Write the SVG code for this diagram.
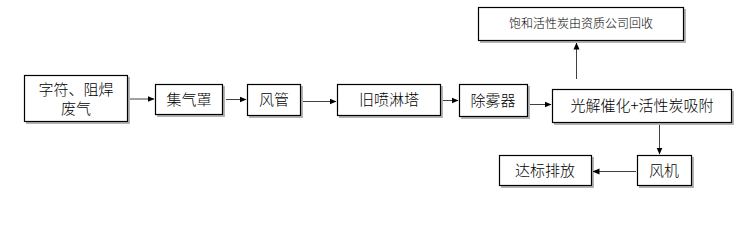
<svg xmlns="http://www.w3.org/2000/svg" width="739" height="241" viewBox="0 0 739 241">
<style>
.box{fill:#fff;stroke:#000;stroke-width:1.2}
.sh{fill:#b4b4b4}
.t{font-family:"Noto Sans CJK SC","Liberation Sans",sans-serif;font-size:15px;font-weight:300;text-anchor:middle;fill:#000}
.s{font-size:12px}
.c{stroke:#404040;stroke-width:1;fill:none}
</style>
<defs>
<marker id="a" markerWidth="7" markerHeight="7" refX="6.5" refY="3.5" orient="auto" markerUnits="userSpaceOnUse">
<path d="M0,0.5 L7,3.5 L0,6.5 z" fill="#000"/>
</marker>
</defs>
<rect width="739" height="241" fill="#fff"/>
<g id="n1"><rect class="sh" x="26" y="77" width="104" height="47"/><rect class="box" x="24.5" y="75.5" width="103" height="46"/><text class="t" x="76" y="95">字符、阻焊</text><text class="t" x="76" y="114">废气</text></g>
<g id="n2"><rect class="sh" x="157" y="86" width="68" height="31"/><rect class="box" x="155.5" y="84.5" width="67" height="30"/><text class="t" x="189" y="105">集气罩</text></g>
<g id="n3"><rect class="sh" x="249" y="86" width="54" height="32"/><rect class="box" x="247.5" y="84.5" width="53" height="31"/><text class="t" x="274" y="105">风管</text></g>
<g id="n4"><rect class="sh" x="339" y="86" width="104" height="32"/><rect class="box" x="337.5" y="84.5" width="103" height="31"/><text class="t" x="389" y="105">旧喷淋塔</text></g>
<g id="n5"><rect class="sh" x="461" y="86" width="69" height="33"/><rect class="box" x="459.5" y="84.5" width="68" height="32"/><text class="t" x="493" y="106">除雾器</text></g>
<g id="n6"><rect class="sh" x="554" y="91" width="180" height="34"/><rect class="box" x="552.5" y="89.5" width="179" height="33"/><text class="t" x="642" y="111">光解催化+活性炭吸附</text></g>
<g id="n7"><rect class="sh" x="480" y="9" width="206" height="34"/><rect class="box" x="478.5" y="7.5" width="205" height="33"/><text class="t s" x="581" y="28">饱和活性炭由资质公司回收</text></g>
<g id="n8"><rect class="sh" x="639" y="157" width="55" height="31"/><rect class="box" x="637.5" y="155.5" width="54" height="30"/><text class="t" x="664" y="176">风机</text></g>
<g id="n9"><rect class="sh" x="501" y="157" width="93" height="31"/><rect class="box" x="499.5" y="155.5" width="92" height="30"/><text class="t" x="545" y="176">达标排放</text></g>
<g id="connectors">
<line class="c" x1="130" y1="99" x2="154" y2="99" marker-end="url(#a)"/>
<line class="c" x1="226" y1="99.5" x2="246" y2="99.5" marker-end="url(#a)"/>
<line class="c" x1="303" y1="101.5" x2="336" y2="101.5" marker-end="url(#a)"/>
<line class="c" x1="443" y1="100.5" x2="458" y2="100.5" marker-end="url(#a)"/>
<line class="c" x1="530" y1="104.5" x2="551" y2="104.5" marker-end="url(#a)"/>
<line class="c" x1="576.5" y1="79" x2="576.5" y2="43" marker-end="url(#a)"/>
<line class="c" x1="659.5" y1="125" x2="659.5" y2="154" marker-end="url(#a)"/>
<line class="c" x1="636" y1="171.5" x2="593" y2="171.5" marker-end="url(#a)"/>
</g>
</svg>
